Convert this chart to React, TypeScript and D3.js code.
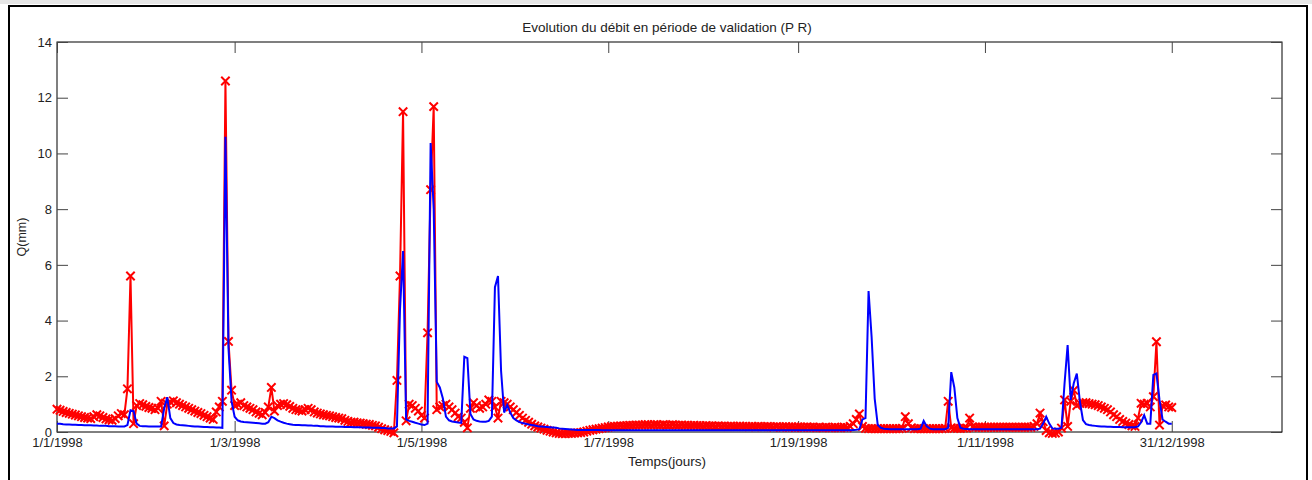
import React, { useRef, useEffect } from "react";
import * as d3 from "d3";

// debit observe (rouge) et simule (bleu), un point par jour
const obs = [
  0.82, 0.78, 0.74, 0.7, 0.67, 0.64, 0.61, 0.58, 0.55, 0.52,
  0.5, 0.48, 0.55, 0.62, 0.58, 0.52, 0.47, 0.44, 0.42, 0.48,
  0.58, 0.66, 0.62, 1.55, 5.6, 0.3, 0.95, 1.02, 0.98, 0.92,
  0.88, 0.85, 0.8, 0.85, 1.1, 0.22, 1.0, 1.08, 1.12, 1.05,
  1.0, 0.95, 0.9, 0.85, 0.8, 0.75, 0.7, 0.66, 0.6, 0.55,
  0.5, 0.45, 0.72, 0.9, 1.1, 12.6, 3.25, 1.5, 0.95, 1.0,
  1.05, 0.95, 0.9, 0.85, 0.8, 0.72, 0.67, 0.62, 0.7, 0.9,
  1.6, 0.75, 0.95, 1.0, 1.02, 0.98, 0.92, 0.85, 0.8, 0.78,
  0.75, 0.8, 0.85, 0.8, 0.72, 0.68, 0.65, 0.62, 0.6, 0.58,
  0.55, 0.52, 0.5, 0.48, 0.42, 0.38, 0.35, 0.35, 0.33, 0.32,
  0.3, 0.28, 0.27, 0.24, 0.22, 0.17, 0.12, 0.08, 0.05, 0.02,
  -0.03, 1.85, 5.6, 11.5, 0.4, 1.0, 0.95, 0.85, 0.75, 0.6,
  0.5, 3.56, 8.7, 11.68, 0.8, 0.9, 0.95, 1.0, 0.9, 0.8,
  0.68, 0.55, 0.5, 0.35, 0.15, 0.85, 1.05, 0.95, 0.85, 0.9,
  1.0, 1.15, 1.1, 0.9, 0.5, 1.1, 1.05, 1.0, 0.9, 0.8,
  0.7, 0.6, 0.5, 0.42, 0.35, 0.28, 0.22, 0.18, 0.14, 0.1,
  0.06, 0.03, 0.0, -0.03, -0.05, -0.06, -0.06, -0.05, -0.05, -0.04,
  -0.03, -0.02, 0.0, 0.03, 0.06, 0.08, 0.1, 0.12, 0.14, 0.16,
  0.18, 0.19, 0.2, 0.21, 0.22, 0.22, 0.23, 0.24, 0.24, 0.25,
  0.25, 0.25, 0.26, 0.26, 0.25, 0.26, 0.26, 0.25, 0.26, 0.25,
  0.25, 0.26, 0.25, 0.24, 0.25, 0.24, 0.24, 0.23, 0.24, 0.23,
  0.23, 0.22, 0.23, 0.22, 0.22, 0.21, 0.22, 0.21, 0.21, 0.2,
  0.21, 0.2, 0.2, 0.21, 0.2, 0.2, 0.19, 0.2, 0.19, 0.2,
  0.19, 0.19, 0.2, 0.19, 0.18, 0.19, 0.18, 0.18, 0.19, 0.18,
  0.18, 0.17, 0.18, 0.17, 0.17, 0.18, 0.17, 0.17, 0.16, 0.17,
  0.16, 0.17, 0.16, 0.16, 0.17, 0.16, 0.16, 0.17, 0.16, 0.2,
  0.3, 0.45, 0.65, 0.2, 0.13, 0.12, 0.12, 0.12, 0.12, 0.12,
  0.12, 0.12, 0.12, 0.12, 0.12, 0.12, 0.13, 0.55, 0.3, 0.15,
  0.12, 0.12, 0.12, 0.12, 0.12, 0.12, 0.12, 0.12, 0.12, 0.12,
  0.13, 1.1, 0.15, 0.13, 0.13, 0.13, 0.14, 0.14, 0.5, 0.18,
  0.17, 0.17, 0.17, 0.17, 0.17, 0.17, 0.17, 0.17, 0.17, 0.17,
  0.17, 0.17, 0.17, 0.17, 0.17, 0.17, 0.17, 0.17, 0.17, 0.2,
  0.3, 0.68, 0.37, 0.05, -0.03, -0.05, -0.04, 0.0, 0.14, 1.15,
  0.2, 1.1, 1.5, 0.95, 1.03, 1.05, 1.05, 1.02, 1.0, 0.98,
  0.95, 0.9, 0.85, 0.8, 0.72, 0.62, 0.55, 0.45, 0.38, 0.32,
  0.27, 0.22, 0.2, 0.5, 1.03, 1.0, 1.03, 0.9, 1.27, 3.24,
  0.25, 0.95, 0.97, 0.9, 0.88,
];

const sim = [
  0.3, 0.3, 0.28, 0.27, 0.27, 0.26, 0.26, 0.25, 0.25, 0.24,
  0.24, 0.24, 0.23, 0.23, 0.22, 0.22, 0.22, 0.21, 0.21, 0.21,
  0.2, 0.2, 0.2, 0.25, 0.78, 0.75, 0.3, 0.22, 0.21, 0.21,
  0.2, 0.2, 0.2, 0.2, 0.2, 0.85, 1.25, 0.5, 0.32, 0.27,
  0.25, 0.24, 0.23, 0.22, 0.21, 0.2, 0.2, 0.19, 0.18, 0.18,
  0.17, 0.17, 0.16, 0.16, 0.15, 10.6, 3.0, 1.1, 0.55, 0.42,
  0.38, 0.36, 0.35, 0.34, 0.33, 0.32, 0.31, 0.3, 0.3, 0.35,
  0.55, 0.5, 0.42, 0.37, 0.33, 0.3, 0.28, 0.26, 0.25, 0.25,
  0.24, 0.24, 0.23, 0.23, 0.22, 0.22, 0.21, 0.21, 0.2, 0.2,
  0.2, 0.19, 0.19, 0.19, 0.18, 0.18, 0.18, 0.17, 0.17, 0.17,
  0.16, 0.16, 0.16, 0.15, 0.15, 0.15, 0.14, 0.14, 0.13, 0.13,
  0.13, 0.2, 4.4, 6.5, 0.45, 0.4, 0.37, 0.33, 0.3, 0.27,
  0.25, 0.3, 10.37, 8.0, 1.8, 1.6, 1.2, 0.55, 0.42, 0.38,
  0.36, 0.34, 0.33, 2.7, 2.65, 0.65, 0.45, 0.4, 0.38, 0.37,
  0.37, 0.4, 0.55, 5.2, 5.6, 2.2, 0.7, 0.97, 0.7, 0.5,
  0.42, 0.36, 0.32, 0.3, 0.27, 0.25, 0.23, 0.21, 0.2, 0.19,
  0.18, 0.17, 0.16, 0.15, 0.13, 0.12, 0.11, 0.1, 0.09, 0.08,
  0.07, 0.07, 0.07, 0.07, 0.07, 0.07, 0.07, 0.07, 0.06, 0.06,
  0.06, 0.06, 0.06, 0.06, 0.06, 0.06, 0.06, 0.06, 0.06, 0.06,
  0.06, 0.06, 0.06, 0.06, 0.06, 0.06, 0.06, 0.06, 0.06, 0.06,
  0.06, 0.06, 0.06, 0.06, 0.06, 0.06, 0.06, 0.06, 0.06, 0.06,
  0.06, 0.06, 0.06, 0.06, 0.06, 0.06, 0.06, 0.06, 0.06, 0.06,
  0.06, 0.06, 0.06, 0.06, 0.06, 0.06, 0.06, 0.06, 0.06, 0.06,
  0.06, 0.06, 0.06, 0.06, 0.06, 0.06, 0.06, 0.06, 0.06, 0.06,
  0.06, 0.06, 0.06, 0.06, 0.06, 0.06, 0.06, 0.06, 0.06, 0.06,
  0.06, 0.06, 0.06, 0.06, 0.06, 0.06, 0.06, 0.06, 0.06, 0.06,
  0.07, 0.08, 0.1, 0.45, 0.5, 5.06, 3.4, 1.2, 0.25, 0.15,
  0.12, 0.11, 0.1, 0.1, 0.1, 0.1, 0.1, 0.1, 0.1, 0.1,
  0.1, 0.1, 0.12, 0.4, 0.2, 0.12, 0.1, 0.1, 0.1, 0.1,
  0.1, 0.15, 2.15, 1.6, 0.5, 0.15, 0.12, 0.11, 0.1, 0.1,
  0.1, 0.1, 0.1, 0.1, 0.1, 0.1, 0.1, 0.1, 0.1, 0.1,
  0.1, 0.1, 0.1, 0.1, 0.1, 0.1, 0.1, 0.1, 0.1, 0.1,
  0.1, 0.12, 0.3, 0.55, 0.3, 0.13, 0.12, 0.12, 0.15, 1.75,
  3.12, 1.15, 1.75, 2.1, 1.1, 0.43, 0.28, 0.25, 0.23, 0.22,
  0.21, 0.2, 0.2, 0.19, 0.19, 0.18, 0.18, 0.18, 0.17, 0.17,
  0.17, 0.17, 0.17, 0.2, 0.35, 0.6, 0.3, 0.3, 2.05, 2.1,
  1.15, 0.45, 0.37, 0.3, 0.3,
];

const tickDays = [1, 59, 120, 181, 243, 304, 365];
const tickLabels = [
  "1/1/1998",
  "1/3/1998",
  "1/5/1998",
  "1/7/1998",
  "1/19/1998",
  "1/11/1998",
  "31/12/1998",
];
const yTicks = [0, 2, 4, 6, 8, 10, 12, 14];

const font = "Arial, 'Liberation Sans', sans-serif";

const App = () => {
  const svgRef = useRef<SVGSVGElement>(null);
  const width = 1312;
  const height = 480;
  const left = 57;
  const right = 1282;
  const top = 42;
  const bottom = 432;

  useEffect(() => {
    document.body.style.margin = "0";
    const svg = d3.select(svgRef.current);
    svg.selectAll("*").remove();

    const x = d3.scaleLinear().domain([1, 401]).range([left, right]);
    const y = d3.scaleLinear().domain([0, 14]).range([bottom, top]);

    // cadre de la figure
    svg.append("rect").attr("x", 0).attr("y", 0).attr("width", width).attr("height", 4).attr("fill", "#e6e6e6");
    svg
      .append("rect")
      .attr("x", 9)
      .attr("y", 6)
      .attr("width", 1298)
      .attr("height", 490)
      .attr("fill", "#fff")
      .attr("stroke", "#000")
      .attr("stroke-width", 2);

    svg
      .append("rect")
      .attr("x", left)
      .attr("y", top)
      .attr("width", right - left)
      .attr("height", bottom - top)
      .attr("fill", "none")
      .attr("stroke", "#000")
      .attr("stroke-width", 1);

    const styleAxis = (g) => {
      g.select(".domain").remove();
      g.selectAll("line").attr("stroke", "#444");
      g.selectAll("text").attr("fill", "#222").attr("font-size", 13).attr("font-family", font);
    };

    svg
      .append("g")
      .attr("transform", `translate(${left},0)`)
      .call(d3.axisLeft(y).tickValues(yTicks).tickSizeInner(-11).tickSizeOuter(0).tickPadding(5))
      .call(styleAxis);
    svg
      .append("g")
      .attr("transform", `translate(${right},0)`)
      .call(d3.axisRight(y).tickValues(yTicks).tickSizeInner(-11).tickSizeOuter(0).tickFormat(() => ""))
      .call(styleAxis);
    svg
      .append("g")
      .attr("transform", `translate(0,${bottom})`)
      .call(
        d3
          .axisBottom(x)
          .tickValues(tickDays)
          .tickSizeInner(-11)
          .tickSizeOuter(0)
          .tickPadding(6)
          .tickFormat((d, i) => tickLabels[i])
      )
      .call(styleAxis);
    svg
      .append("g")
      .attr("transform", `translate(0,${top})`)
      .call(d3.axisTop(x).tickValues(tickDays).tickSizeInner(-11).tickSizeOuter(0).tickFormat(() => ""))
      .call(styleAxis);

    const line = d3
      .line<number>()
      .x((d, i) => x(i + 1))
      .y((d) => y(d));

    // observe : ligne rouge + croix
    svg
      .append("path")
      .datum(obs)
      .attr("d", line)
      .attr("fill", "none")
      .attr("stroke", "#ff0000")
      .attr("stroke-width", 2);

    const s = 4.2;
    svg
      .append("g")
      .selectAll("path")
      .data(obs)
      .enter()
      .append("path")
      .attr("d", (d, i) => {
        const cx = x(i + 1);
        const cy = y(d);
        return `M${cx - s},${cy - s}L${cx + s},${cy + s}M${cx - s},${cy + s}L${cx + s},${cy - s}`;
      })
      .attr("stroke", "#ff0000")
      .attr("stroke-width", 2)
      .attr("fill", "none");

    // simule : ligne bleue
    svg
      .append("path")
      .datum(sim)
      .attr("d", line)
      .attr("fill", "none")
      .attr("stroke", "#0000ff")
      .attr("stroke-width", 2);

    svg
      .append("text")
      .attr("x", 667)
      .attr("y", 32)
      .attr("text-anchor", "middle")
      .attr("font-family", font)
      .attr("font-size", 13.5)
      .attr("fill", "#222")
      .text("Evolution du débit en période de validation (P R)");

    svg
      .append("text")
      .attr("x", 667)
      .attr("y", 466)
      .attr("text-anchor", "middle")
      .attr("font-family", font)
      .attr("font-size", 13.5)
      .attr("fill", "#222")
      .text("Temps(jours)");

    svg
      .append("text")
      .attr("transform", `translate(26,${(top + bottom) / 2}) rotate(-90)`)
      .attr("text-anchor", "middle")
      .attr("font-family", font)
      .attr("font-size", 12.5)
      .attr("fill", "#222")
      .text("Q(mm)");
  }, []);

  return <svg ref={svgRef} width={width} height={height} style={{ display: "block" }} />;
};

export default App;
